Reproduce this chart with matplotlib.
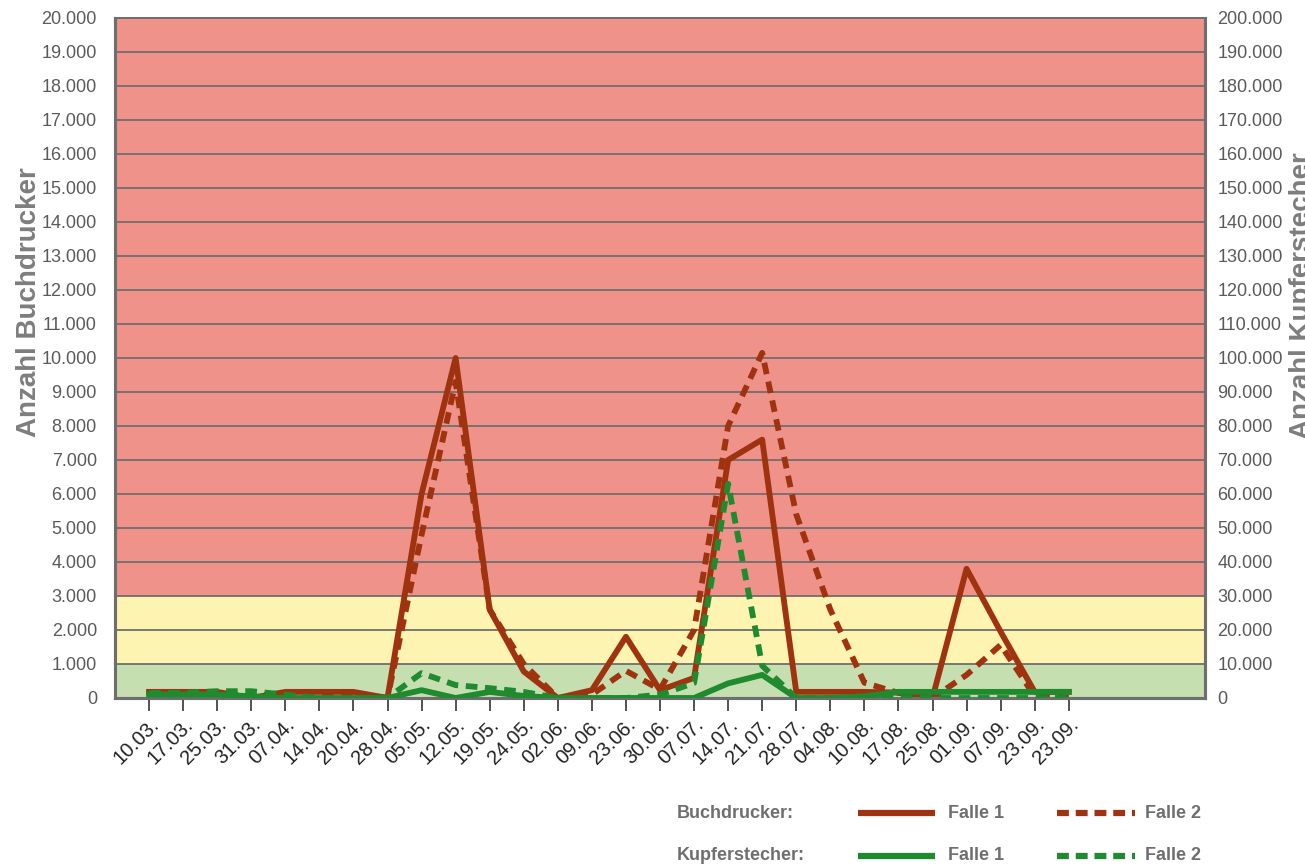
import matplotlib
matplotlib.use("Agg")
import matplotlib.pyplot as plt
from matplotlib.lines import Line2D
from matplotlib.ticker import FuncFormatter, MultipleLocator

# sampling dates (x axis)
dates = ["10.03.", "17.03.", "25.03.", "31.03.", "07.04.", "14.04.", "20.04.",
         "28.04.", "05.05.", "12.05.", "19.05.", "24.05.", "02.06.", "09.06.",
         "23.06.", "30.06.", "07.07.", "14.07.", "21.07.", "28.07.", "04.08.",
         "10.08.", "17.08.", "25.08.", "01.09.", "07.09.", "23.09.", "23.09."]

# Buchdrucker (left axis)
buch_falle1 = [180, 180, 180, 0, 180, 180, 180, 0, 6000, 10000, 2600, 780, 0, 230,
               1800, 230, 590, 7000, 7600, 180, 180, 180, 160, 0, 3800, 1950, 180, 180]
buch_falle2 = [150, 150, 150, 50, 150, 150, 150, 0, 4800, 9300, 2600, 1000, 0, 100,
               800, 250, 2000, 8000, 10150, 5400, 2600, 450, 150, 0, 680, 1560, 50, 0]

# Kupferstecher (right axis)
kupf_falle1 = [1000, 1000, 1000, 500, 0, 0, 0, 0, 2300, 0, 1800, 600, 0, 0,
               0, 0, 0, 4300, 6800, 0, 0, 500, 1800, 1800, 1800, 1800, 1800, 1800]
kupf_falle2 = [1500, 1500, 2000, 2000, 1000, 0, 0, 0, 7300, 3800, 2900, 1800, 0, 0,
               0, 1000, 4400, 63000, 9500, 0, 0, 0, 0, 0, 0, 0, 0, 0]

# threshold bands (Buchdrucker scale)
band_edges = [0, 1000, 3000, 20000]
band_colors = ["#c5dfb1", "#fdf4b2", "#ef938a"]

BROWN = "#a0330f"
GREEN = "#1f8a2e"
GRAY = "#6e6e6e"

font = ["Liberation Sans", "DejaVu Sans"]


def thousands(v, pos):
    return "{:,.0f}".format(v).replace(",", ".")


fig = plt.figure(figsize=(13.05, 8.68), dpi=100)
ax = fig.add_axes([115 / 1305, 1 - 698 / 868, 1090 / 1305, 680 / 868])
ax2 = ax.twinx()

x = list(range(len(dates)))

# background bands
for lo, hi, c in zip(band_edges[:-1], band_edges[1:], band_colors):
    ax.axhspan(lo, hi, color=c, zorder=0, lw=0)

ax.set_ylim(0, 20000)
ax.set_xlim(-1, 31)
ax2.set_ylim(0, 200000)

ax.yaxis.set_major_locator(MultipleLocator(1000))
ax2.yaxis.set_major_locator(MultipleLocator(10000))
ax.yaxis.set_major_formatter(FuncFormatter(thousands))
ax2.yaxis.set_major_formatter(FuncFormatter(thousands))

ax.set_axisbelow(True)
ax.grid(axis="y", color=GRAY, lw=1.3)
ax.grid(axis="x", visible=False)

lw = 4.2
dash = (0, (2.0, 1.3))
ax.plot(x, buch_falle1, color=BROWN, lw=lw, zorder=3)
ax.plot(x, buch_falle2, color=BROWN, lw=lw, linestyle=dash, dash_capstyle="butt", zorder=3)
ax2.plot(x, kupf_falle1, color=GREEN, lw=lw, zorder=3)
ax2.plot(x, kupf_falle2, color=GREEN, lw=lw, linestyle=dash, dash_capstyle="butt", zorder=3)

# ticks and labels
ax.set_xticks(x)
ax.set_xticklabels(dates, rotation=45, ha="right", va="top", rotation_mode="anchor",
                   family=font, fontsize=14.5, color="#222222")
ax.tick_params(axis="x", length=9, width=1.3, color="#444444", pad=3)
ax.tick_params(axis="y", length=0, pad=13)
ax2.tick_params(axis="y", length=0, pad=9)
for lab in ax.get_yticklabels() + ax2.get_yticklabels():
    lab.set_family(font)
    lab.set_fontsize(13)
    lab.set_color("#5a5a5a")

for a in (ax, ax2):
    for side in ("left", "right", "bottom", "top"):
        a.spines[side].set_color(GRAY)
        a.spines[side].set_linewidth(2.2)
    a.spines["top"].set_linewidth(1.3)

fig.text(29 / 1305, 1 - 302 / 868, "Anzahl Buchdrucker", rotation=90, ha="center",
         va="center", family=font, fontsize=20, fontweight="bold", color="#7d7d7d")
fig.text(1302 / 1305, 1 - 296 / 868, "Anzahl Kupferstecher", rotation=90, ha="center",
         va="center", family=font, fontsize=20, fontweight="bold", color="#7d7d7d")

# legend drawn by hand
rows = [("Buchdrucker:", BROWN, 1 - 813 / 868), ("Kupferstecher:", GREEN, 1 - 856 / 868)]
for name, col, yy in rows:
    fig.text(677 / 1305, yy, name, ha="left", va="center", family=font,
             fontsize=13, fontweight="bold", color="#6f6f6f")
    fig.add_artist(Line2D([858 / 1305, 935 / 1305], [yy, yy], color=col, lw=4.5,
                          solid_capstyle="butt"))
    fig.text(948 / 1305, yy, "Falle 1", ha="left", va="center", family=font,
             fontsize=13, fontweight="bold", color="#6f6f6f")
    fig.add_artist(Line2D([1057 / 1305, 1135 / 1305], [yy, yy], color=col, lw=4.5,
                          linestyle=(0, (1.9, 1.1)), dash_capstyle="butt"))
    fig.text(1145 / 1305, yy, "Falle 2", ha="left", va="center", family=font,
             fontsize=13, fontweight="bold", color="#6f6f6f")

fig.savefig("out.png", dpi=100)
